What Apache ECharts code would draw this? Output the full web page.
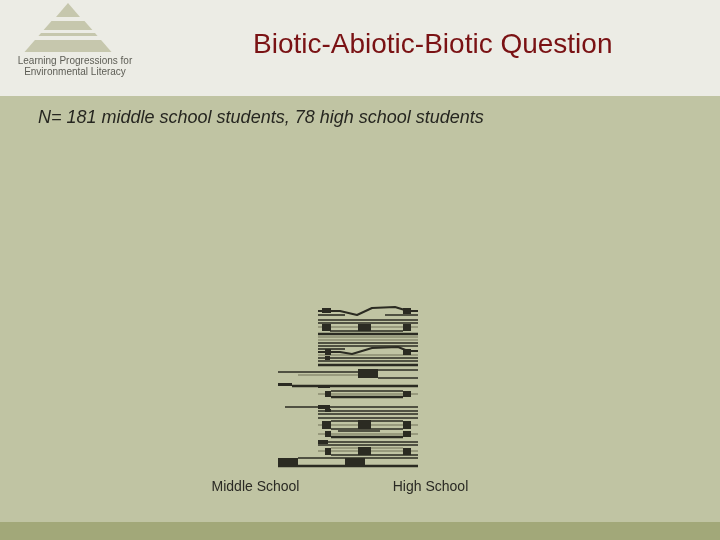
<!DOCTYPE html>
<html><head><meta charset="utf-8">
<script src="https://cdn.jsdelivr.net/npm/echarts@6/dist/echarts.min.js"></script>
<style>html,body{margin:0;padding:0;}#c{width:720px;height:540px;}</style>
</head><body><div id="c"></div>
<script>
const categories = ['Middle School', 'High School'];
// wavy traces [x, y]
const wave1 = [[150,155],[172,155],[189,151],[204,158],[227,159],[240,155],[250,155]];
const wave2 = [[150,114],[172,114],[184,112],[204,118],[230,119],[240,115],[250,115]];
// rules [x1, x2, y]
const darkRules = [[150,177,151],[217,250,151],[150,250,146],[150,250,143],[162,235,135],
  [150,250,123],[150,250,120],[150,177,117],[150,250,108],[150,250,105],[110,190,94],[210,250,96],
  [210,250,88],[117,250,59],[150,250,55],[150,250,52],[150,250,48],[163,235,45],[163,235,37],
  [170,212,35],[150,250,24],[150,250,21],[163,250,11],[130,250,8],[163,235,75]];
const thickRules = [[150,250,132],[150,250,101],[124,250,80],[163,235,69],[163,235,29],[110,250,0]];
const grayRules = [[150,250,139],[150,250,129],[150,250,126],[150,250,111],[130,190,91],[150,250,72],
  [150,250,41],[150,250,32],[150,250,15],[163,235,18]];
// blocks [x1, x2, yLow, yHigh]
const blocks = [[154,163,153,158],[235,243,152,158],[154,163,135,142],[190,203,135,142],[235,243,135,142],
  [157,163,111,117],[235,243,111,117],[157,162,106,110],[190,210,88,97],[110,124,80,83],[150,162,78,81],
  [157,163,69,75],[235,243,69,75],[150,162,57,61],[157,163,54,57],[154,163,37,45],[190,203,37,46],
  [235,243,37,45],[157,163,29,35],[235,243,29,35],[150,160,22,26],[157,163,11,18],[190,203,11,19],
  [235,243,11,18],[110,130,0,8],[177,197,0,8]];

const chart = echarts.init(document.getElementById('c'), null, {renderer:'canvas'});

function ruleSeries(data, color, width) {
  return {
    type: 'custom', xAxisIndex: 0, yAxisIndex: 0, clip: false, silent: true,
    encode: {x: [0, 1], y: 2},
    data: data,
    renderItem: function (params, api) {
      const a = api.coord([api.value(0), api.value(2)]);
      const b = api.coord([api.value(1), api.value(2)]);
      return {type: 'line', shape: {x1: a[0], y1: a[1], x2: b[0], y2: b[1]},
        style: {stroke: color, lineWidth: width}};
    }
  };
}

// logo pyramid slices
const apex = [68, 2], slope = 0.87;
function slice(y1, y2) {
  const h1 = (y1 - apex[1]) * slope, h2 = (y2 - apex[1]) * slope;
  return [[apex[0] - h1, y1], [apex[0] + h1, y1], [apex[0] + h2, y2], [apex[0] - h2, y2]];
}
const logoColor = '#c6c7ad';

chart.setOption({
  backgroundColor: '#c0c4a3',
  animation: false,
  graphic: [
    {type: 'rect', shape: {x: 0, y: 0, width: 720, height: 96}, style: {fill: '#ecece5'}, z: -10},
    {type: 'rect', shape: {x: 0, y: 522, width: 720, height: 18}, style: {fill: '#a2a879'}, z: -10},
    {type: 'polygon', shape: {points: [[68,3],[80,17],[56,17]]}, style: {fill: logoColor}},
    {type: 'polygon', shape: {points: slice(21, 30)}, style: {fill: logoColor}},
    {type: 'polygon', shape: {points: slice(33, 36)}, style: {fill: logoColor}},
    {type: 'polygon', shape: {points: slice(40, 52)}, style: {fill: logoColor}},
    {type: 'text', style: {text: 'Learning Progressions for', x: 75, y: 61.5, align: 'center', verticalAlign: 'middle',
      font: '10px "Liberation Sans", Arial, sans-serif', fill: '#5d5d55'}},
    {type: 'text', style: {text: 'Environmental Literacy', x: 75, y: 72.5, align: 'center', verticalAlign: 'middle',
      font: '10px "Liberation Sans", Arial, sans-serif', fill: '#5d5d55'}},
    {type: 'text', style: {text: 'Biotic-Abiotic-Biotic Question', x: 253, y: 45.5, align: 'left', verticalAlign: 'middle',
      font: '28px "Liberation Sans", Arial, sans-serif', fill: '#7a1214'}},
    {type: 'text', style: {text: 'N= 181 middle school students, 78 high school students', x: 38, y: 117.5,
      align: 'left', verticalAlign: 'middle', font: 'italic 18px "Liberation Sans", Arial, sans-serif', fill: '#262620'}}
  ],
  grid: {left: 168, right: 202, top: 305, bottom: 74, containLabel: false},
  xAxis: [
    {type: 'value', min: 0, max: 350, show: false},
    {type: 'category', data: categories, position: 'bottom', axisLine: {show: false}, axisTick: {show: false},
      splitLine: {show: false},
      axisLabel: {margin: 14, fontSize: 14, color: '#2a2a24', fontFamily: '"Liberation Sans", Arial, sans-serif'}}
  ],
  yAxis: {type: 'value', min: 0, max: 161, show: false},
  series: [
    ruleSeries(grayRules, '#8b8c70', 1.5),
    ruleSeries(darkRules, '#2b2b22', 1.6),
    ruleSeries(thickRules, '#2b2b22', 2.5),
    {type: 'line', data: wave1, showSymbol: false, lineStyle: {color: '#2b2b22', width: 2}, silent: true},
    {type: 'line', data: wave2, showSymbol: false, lineStyle: {color: '#2b2b22', width: 2}, silent: true},
    {
      type: 'custom', clip: false, silent: true, encode: {x: [0, 1], y: [2, 3]}, data: blocks,
      renderItem: function (params, api) {
        const a = api.coord([api.value(0), api.value(3)]);
        const b = api.coord([api.value(1), api.value(2)]);
        return {type: 'rect', shape: {x: a[0], y: a[1], width: b[0] - a[0], height: b[1] - a[1]},
          style: {fill: '#2b2b22'}};
      }
    }
  ]
});
</script>
</body></html>
